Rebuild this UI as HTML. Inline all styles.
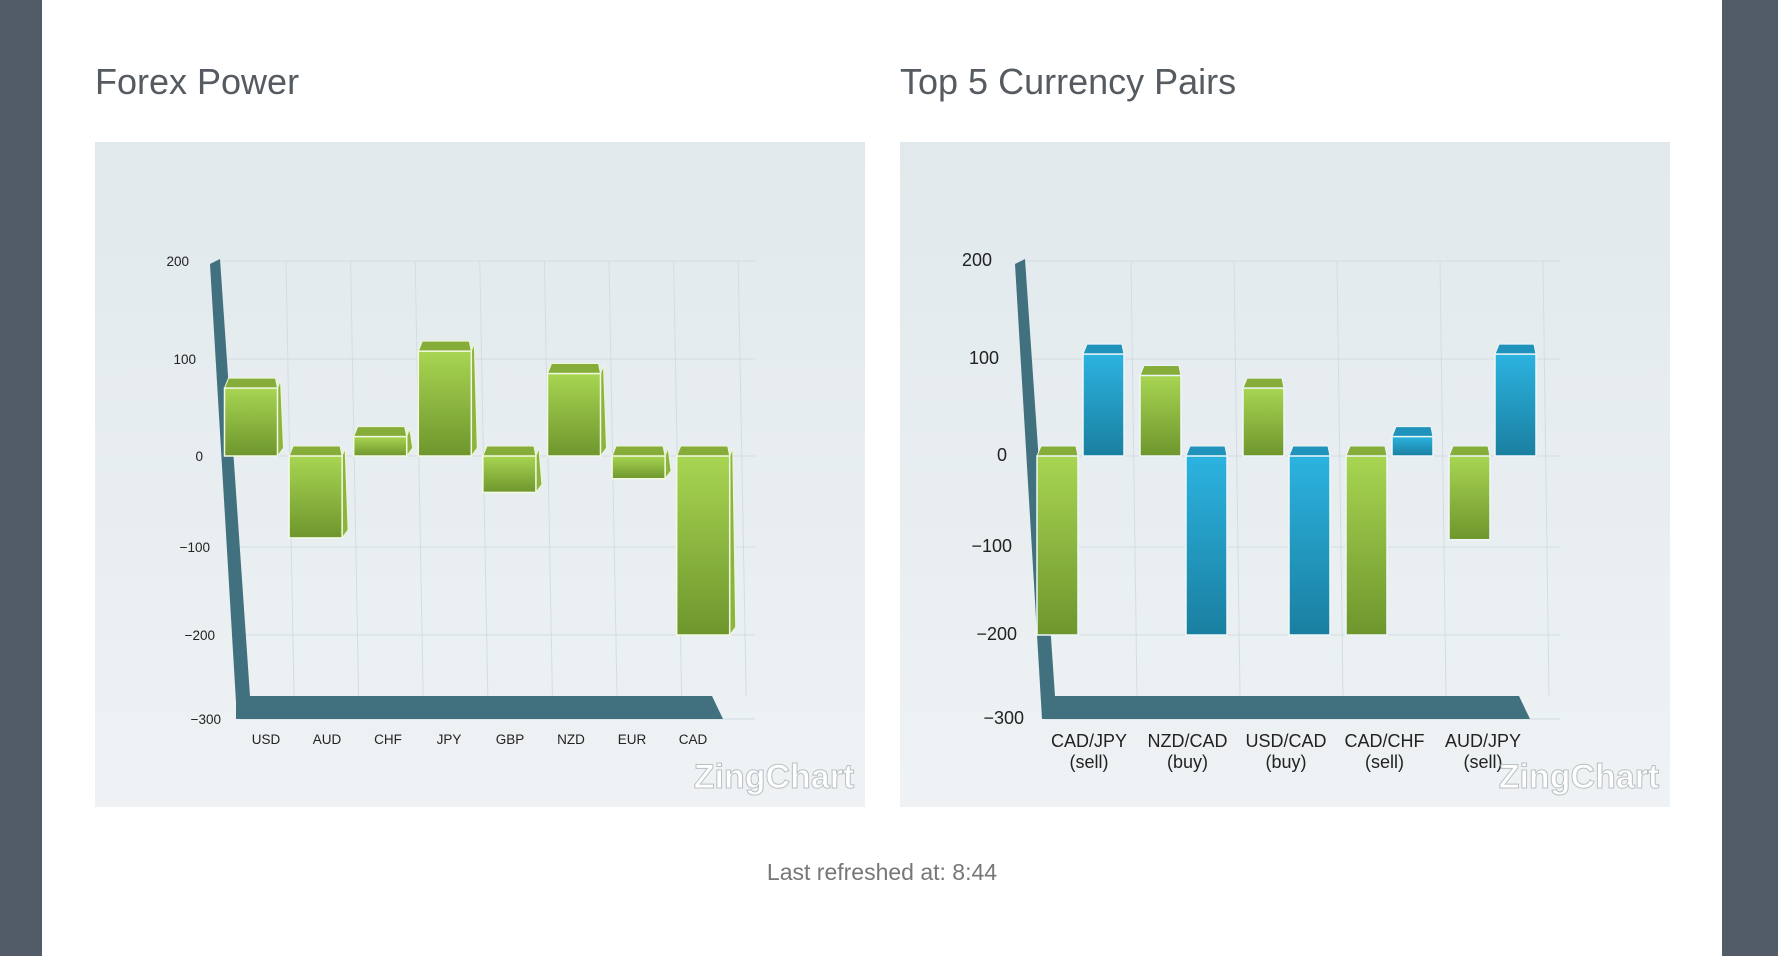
<!DOCTYPE html>
<html><head><meta charset="utf-8"><style>
html,body{margin:0;padding:0;width:1778px;height:956px;overflow:hidden;background:#fff;font-family:"Liberation Sans",sans-serif}
</style></head><body>
<svg id="page" width="1778" height="956" xmlns="http://www.w3.org/2000/svg">
<defs>
<linearGradient id="panelBg" x1="0" y1="0" x2="0" y2="1"><stop offset="0" stop-color="#e1e9ec"/><stop offset="1" stop-color="#eef2f4"/></linearGradient>
<linearGradient id="gFace" x1="0" y1="0" x2="0" y2="1"><stop offset="0" stop-color="#a8d552"/><stop offset="1" stop-color="#6e962d"/></linearGradient>
<linearGradient id="bFace" x1="0" y1="0" x2="0" y2="1"><stop offset="0" stop-color="#2cb3e0"/><stop offset="1" stop-color="#1a7fa0"/></linearGradient>
</defs>
<rect x="0" y="0" width="42" height="956" fill="#525c66"/>
<rect x="1722" y="0" width="56" height="956" fill="#525c66"/>
<text x="95" y="94" font-size="36" fill="#555b61">Forex Power</text>
<text x="900" y="94" font-size="36" fill="#555b61">Top 5 Currency Pairs</text>
<rect x="95" y="142" width="770" height="665" fill="url(#panelBg)"/>
<rect x="900" y="142" width="770" height="665" fill="url(#panelBg)"/>
<g id="c1"></g><g id="c2"></g>
<text x="882" y="880" font-size="23" fill="#777" text-anchor="middle">Last refreshed at: 8:44</text>
</svg>
<script>
const tickVals=[200,100,0,-100,-200,-300];
const tickLabels=["200","100","0","\u2212100","\u2212200","\u2212300"];
const cats1=["USD","AUD","CHF","JPY","GBP","NZD","EUR","CAD"];
const vals1=[70,-90,20,108,-40,85,-25,-200];
const cats2=[["CAD/JPY","(sell)"],["NZD/CAD","(buy)"],["USD/CAD","(buy)"],["CAD/CHF","(sell)"],["AUD/JPY","(sell)"]];
const green2=[-200,83,70,-200,-92];
const blue2=[105,-200,-200,20,105];

const NS="http://www.w3.org/2000/svg";
const tickY=[261,359,456,547,635,719];
function yScale(v){
  for(let i=0;i<tickVals.length-1;i++){
    const a=tickVals[i],b=tickVals[i+1];
    if(v<=a&&v>=b){return tickY[i]+(a-v)/(a-b)*(tickY[i+1]-tickY[i]);}
  }
  return v>200?tickY[0]-(v-200)*0.98:tickY[5];
}
function mk(parent,tag,attrs,text){const e=document.createElementNS(NS,tag);for(const k in attrs)e.setAttribute(k,attrs[k]);if(text!==undefined)e.textContent=text;parent.appendChild(e);return e;}

function frame(g,ox,labelRight){
  // grid
  tickY.forEach((y,i)=>{
    const l=mk(g,'line',{x1:ox+120+i*5,y1:y,x2:ox+660,y2:y,stroke:'#d3dde1','stroke-width':1});
    
    
    const t=mk(g,'text',{x:labelRight[i],y:y+5,'font-size':ox>500?18:13.5,fill:'#222','text-anchor':'end'},tickLabels[i]);
    
    
  });
  const wall=mk(g,'polygon',{points:`${ox+115},264 ${ox+125},259 ${ox+155},696 ${ox+142},719`,fill:'#41707f'});
  
  
}

// chart 1
(function(){
  const g=document.getElementById('c1');
  frame(g,95,[189,196,203,210,215,221]);
  const floor=mk(g,'polygon',{points:`236,696 712,696 723,719 236,719`,fill:'#41707f'});
  
  
  for(let i=0;i<8;i++){
    const gx=286+i*64.6;
    const l=mk(g,'line',{x1:gx,y1:261,x2:gx+8,y2:696,stroke:'#d3dde1'});
    
    
  }
  cats1.forEach((c,i)=>{
    const cx=251+i*64.6,w=53,x=cx-w/2;
    const y0=yScale(0),yv=yScale(vals1[i]);
    const top=Math.min(y0,yv),bot=Math.max(y0,yv);
    const b=mk(g,'g',{});
    
    
    mk(b,'polygon',{points:`${x},${top} ${x+4},${top-10} ${x+w-2},${top-10} ${x+w},${top}`,fill:'#86ad3a',stroke:'#eef7d8','stroke-width':1});
    mk(b,'polygon',{points:`${x+w},${top} ${x+w+3},${top-8} ${x+w+6},${bot-8} ${x+w},${bot}`,fill:'#8bb53e',stroke:'#eef7d8','stroke-width':1});
    mk(b,'rect',{x:x,y:top,width:w,height:bot-top,fill:'url(#gFace)',stroke:'#f3fae3','stroke-width':1.5});
    const t=mk(g,'text',{x:266+i*61,y:744,'font-size':13.5,fill:'#222','text-anchor':'middle'},c);
    
    
  });
  const wm=mk(g,'text',{x:774,y:788,'font-size':34,'font-weight':'bold',fill:'#fff',stroke:'#b8c0c4','stroke-width':1,'text-anchor':'middle'},'ZingChart');
  
  
})();

// chart 2
(function(){
  const g=document.getElementById('c2');
  frame(g,900,[992,999,1007,1012,1017,1024]);
  const floor=mk(g,'polygon',{points:`1042,696 1519,696 1530,719 1042,719`,fill:'#41707f'});
  
  
  for(let i=0;i<5;i++){
    const gx=1131+i*103;
    const l=mk(g,'line',{x1:gx,y1:261,x2:gx+6,y2:696,stroke:'#d3dde1'});
    
    
  }
  function bar(x,w,v,face,topc,name){
    const y0=yScale(0),yv=yScale(v);
    const top=Math.min(y0,yv),bot=Math.max(y0,yv);
    const b=mk(g,'g',{});
    
    
    mk(b,'polygon',{points:`${x},${top} ${x+4},${top-10} ${x+w-2},${top-10} ${x+w},${top}`,fill:topc,stroke:'#eef7f8','stroke-width':1});
    mk(b,'rect',{x:x,y:top,width:w,height:bot-top,fill:face,stroke:'#eef7f8','stroke-width':1.5});
  }
  cats2.forEach((c,i)=>{
    const gx=1037+i*103;
    bar(gx,41,green2[i],'url(#gFace)','#86ad3a','bar-green-'+i);
    bar(gx+46,41,blue2[i],'url(#bFace)','#1f93bb','bar-blue-'+i);
    const cx=1089+i*98.5;
    const t1=mk(g,'text',{x:cx,y:747,'font-size':18,fill:'#222','text-anchor':'middle'},c[0]);
    
    
    const t2=mk(g,'text',{x:cx,y:768,'font-size':18,fill:'#222','text-anchor':'middle'},c[1]);
    
    
  });
  const wm=mk(g,'text',{x:1579,y:788,'font-size':34,'font-weight':'bold',fill:'#fff',stroke:'#b8c0c4','stroke-width':1,'text-anchor':'middle'},'ZingChart');
  
  
})();
</script>
</body></html>
